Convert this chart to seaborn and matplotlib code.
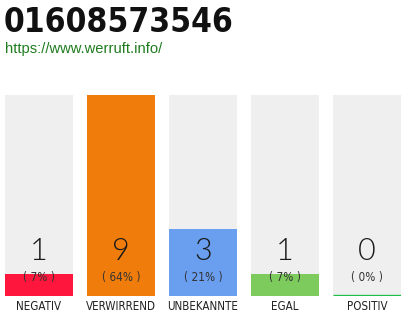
import matplotlib
matplotlib.use("Agg")
import matplotlib.pyplot as plt
import seaborn as sns
import pandas as pd

categories = ["NEGATIV", "VERWIRREND", "UNBEKANNTE", "EGAL", "POSITIV"]
counts = [1, 9, 3, 1, 0]
percents = ["( 7% )", "( 64% )", "( 21% )", "( 7% )", "( 0% )"]
colors = ["#ff163c", "#f07d0b", "#6a9eef", "#7ccb5c", "#1ec04a"]
title = "01608573546"
url = "https://www.werruft.info/"

sns.set_theme(style="white")
plt.rcParams['font.family'] = ['DejaVu Sans']

W, H = 410, 320
fig = plt.figure(figsize=(W / 100, H / 100), dpi=100)
left, right, top, bottom = 5, 401, 95, 296
ax = fig.add_axes([left / W, 1 - bottom / H, (right - left) / W, (bottom - top) / H])

maxv = max(counts)
df = pd.DataFrame({"cat": categories, "val": counts, "full": [maxv] * len(categories)})
bw = 68 / 82
sns.barplot(data=df, x="cat", y="full", color="#efefef", width=bw, ax=ax, saturation=1)
sns.barplot(data=df, x="cat", y="val", hue="cat", palette=colors, width=bw, ax=ax,
            saturation=1, legend=False)
for p in ax.patches:
    p.set_linewidth(0)
# zero-valued bars: show a thin baseline in the bar colour
for p in list(ax.patches[len(categories):]):
    if p.get_height() == 0:
        idx = int(round(p.get_x() + p.get_width() / 2))
        ax.hlines(0, p.get_x(), p.get_x() + p.get_width(), colors=colors[idx],
                  linewidth=2.4, zorder=5)

ax.set_xlim(-34 / 82, len(categories) - 1 + 34 / 82)
ax.set_ylim(0, maxv)
ax.axis("off")

for i, (c, v, pc) in enumerate(zip(categories, counts, percents)):
    ax.text(i, maxv * (296 - 252) / 201, str(v), ha="center", va="center",
            fontsize=22, color="#1a1a1a", fontweight=300,
            family=["Lato", "DejaVu Sans"])
    ax.text(i, maxv * (296 - 277) / 201, pc, ha="center", va="center",
            fontsize=8.5, color="#333333", fontstretch="condensed")
    fig.text((5 + 34 + 82 * i) / W, 1 - 307 / H, c, ha="center", va="center",
             fontsize=8.3, color="#222222", fontstretch="condensed")

fig.text(4 / W, 1 - 22 / H, title, ha="left", va="center", fontsize=24,
         fontweight="bold", fontstretch="condensed", color="#111111")
fig.text(5 / W, 1 - 49 / H, url, ha="left", va="center", fontsize=10.6,
         color="#1e7b1e", family=["Liberation Sans", "DejaVu Sans"])

fig.savefig("out.png", dpi=100)
